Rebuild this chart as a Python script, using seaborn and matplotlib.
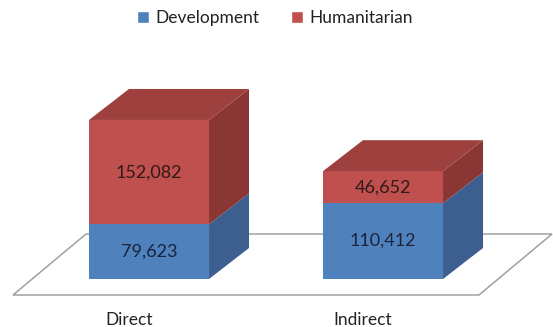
import matplotlib
matplotlib.use('Agg')
import matplotlib.pyplot as plt
from matplotlib.patches import Polygon, Patch
import seaborn as sns
import pandas as pd

categories = ["Direct", "Indirect"]
development = [79623, 110412]
humanitarian = [152082, 46652]
series_names = ["Development", "Humanitarian"]

sns.set_theme(style="white")
plt.rcParams['font.family'] = ['Lato', 'DejaVu Sans']

BLUE, BLUE_SIDE, BLUE_TOP = "#4F81BD", "#3C5F90", "#426DA3"
RED, RED_SIDE, RED_TOP = "#C0504D", "#8A3634", "#9E413E"
TXT = "#222222"

W, H = 553, 327
fig = plt.figure(figsize=(W / 100, H / 100), dpi=100)
ax = fig.add_axes([0, 0, 1, 1])

df = pd.DataFrame({
    "category": categories,
    "total": [d + h for d, h in zip(development, humanitarian)],
    "dev": development,
})

bar_w = 0.513
sns.barplot(data=df, x="category", y="total", color=RED, saturation=1,
            width=bar_w, ax=ax, linewidth=0, zorder=3)
sns.barplot(data=df, x="category", y="dev", color=BLUE, saturation=1,
            width=bar_w, ax=ax, linewidth=0, zorder=3)

# pixel mapping of the pseudo-3D scene
px_per_cat = 234.0
units_per_px = 1457.0
x0_px, y0_px = 149.0, 279.0
ax.set_xlim(-x0_px / px_per_cat, (W - x0_px) / px_per_cat)
ax.set_ylim(-(H - y0_px) * units_per_px, y0_px * units_per_px)
ax.set_axis_off()

dx = 40 / px_per_cat
dy = 31 * units_per_px

n = len(categories)
red_rects = ax.patches[:n]
blue_rects = ax.patches[n:2 * n]
for i in range(n):
    rr, br = red_rects[i], blue_rects[i]
    l = br.get_x()
    r = l + br.get_width()
    b = br.get_height()
    t = rr.get_height()
    ax.add_patch(Polygon([(r, 0), (r + dx, dy), (r + dx, b + dy), (r, b)],
                         closed=True, facecolor=BLUE_SIDE, edgecolor='none', zorder=3))
    ax.add_patch(Polygon([(r, b), (r + dx, b + dy), (r + dx, t + dy), (r, t)],
                         closed=True, facecolor=RED_SIDE, edgecolor='none', zorder=3))
    ax.add_patch(Polygon([(l, t), (r, t), (r + dx, t + dy), (l + dx, t + dy)],
                         closed=True, facecolor=RED_TOP, edgecolor='none', zorder=3))
    cx = l + br.get_width() / 2
    ax.text(cx, b / 2, f"{development[i]:,}", ha='center', va='center',
            fontsize=13, color="#1b2338", zorder=5)
    ax.text(cx, b + (t - b) / 2, f"{humanitarian[i]:,}", ha='center', va='center',
            fontsize=13, color="#2e1a1a", zorder=5)

# floor (3D frame)
f_front_y = -16 * units_per_px
f_dx = 73 / px_per_cat
f_dy = 61 * units_per_px
f_l = (13 - x0_px) / px_per_cat
f_r = (479 - x0_px) / px_per_cat
ax.add_patch(Polygon([(f_l, f_front_y), (f_r, f_front_y), (f_r + f_dx, f_front_y + f_dy),
                      (f_l + f_dx, f_front_y + f_dy)], closed=True, facecolor='white',
                     edgecolor='#a0a0a0', linewidth=1.1, zorder=1))

# category labels
for i, c in enumerate(categories):
    ax.text(i - 20 / px_per_cat, -46 * units_per_px, c, ha='center', va='baseline',
            fontsize=12.5, color=TXT)

handles = [Patch(facecolor=BLUE, label=series_names[0]),
           Patch(facecolor=RED, label=series_names[1])]
fig.legend(handles=handles, loc='center', bbox_to_anchor=(0.497, 1 - 18 / H), ncol=2,
           frameon=False, fontsize=12.5, handlelength=0.7, handleheight=0.7,
           handletextpad=0.35, columnspacing=1.8, labelcolor=TXT)

fig.savefig("out.png", dpi=100)
